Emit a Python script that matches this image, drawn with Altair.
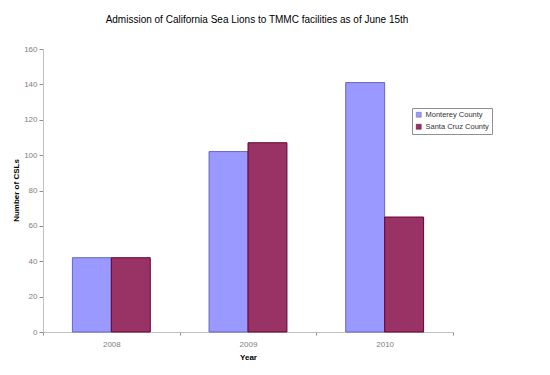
import altair as alt
import pandas as pd

years = ["2008", "2009", "2010"]
counties = ["Monterey County", "Santa Cruz County"]
monterey = [42, 102, 141]
santa_cruz = [42, 107, 65]

rows = []
for i, y in enumerate(years):
    rows.append({"Year": y, "County": counties[0], "Count": monterey[i]})
    rows.append({"Year": y, "County": counties[1], "Count": santa_cruz[i]})
df = pd.DataFrame(rows)

font = "Liberation Sans"

chart = alt.Chart(df).mark_bar(strokeWidth=1).encode(
    x=alt.X("Year:N", scale=alt.Scale(paddingInner=0, paddingOuter=0),
            axis=alt.Axis(title="Year", labelAngle=0, tickBand="extent",
                          domainColor="#c0c0c0", tickColor="#909090", tickSize=3,
                          labelColor="#808080", labelFontSize=8, labelPadding=5,
                          titleFontSize=8, titleFontWeight="bold", titleColor="#000000",
                          titleY=25, titleBaseline="middle")),
    xOffset=alt.XOffset("County:N", sort=counties,
                        scale=alt.Scale(paddingInner=0, paddingOuter=0.755)),
    y=alt.Y("Count:Q", scale=alt.Scale(domain=[0, 160]),
            axis=alt.Axis(title="Number of CSLs", values=list(range(0, 161, 20)),
                          grid=False, domainColor="#c0c0c0", tickColor="#909090",
                          tickSize=4, labelColor="#808080", labelFontSize=8,
                          labelPadding=2, titleFontSize=8, titleFontWeight="bold",
                          titleColor="#000000", titleX=-27, titleY=141,
                          titleBaseline="middle")),
    color=alt.Color("County:N", sort=counties,
                    scale=alt.Scale(domain=counties, range=["#9999FF", "#993366"]),
                    legend=alt.Legend(title=None, orient="none", legendX=369, legendY=59,
                                      symbolType="square", symbolSize=25,
                                      symbolStrokeColor="#333333", symbolStrokeWidth=0.5,
                                      labelFontSize=7.5, labelColor="#333333",
                                      strokeColor="#909090", padding=3, rowPadding=3,
                                      labelOffset=3, labelLimit=200)),
    stroke=alt.Stroke("County:N", sort=counties,
                      scale=alt.Scale(domain=counties, range=["#6666BB", "#660033"]),
                      legend=None),
).properties(
    width=410,
    height=283,
    title=alt.TitleParams("Admission of California Sea Lions to TMMC facilities as of June 15th",
                          fontSize=10, fontWeight="normal", font=font, color="#000000",
                          offset=20, dx=9),
    autosize=alt.AutoSizeParams(type="none"),
    padding={"left": 35, "top": 41, "right": 89, "bottom": 35},
).configure(font=font).configure_view(stroke=None)

chart.save("out.html", embed_options={"renderer": "svg", "actions": False})
